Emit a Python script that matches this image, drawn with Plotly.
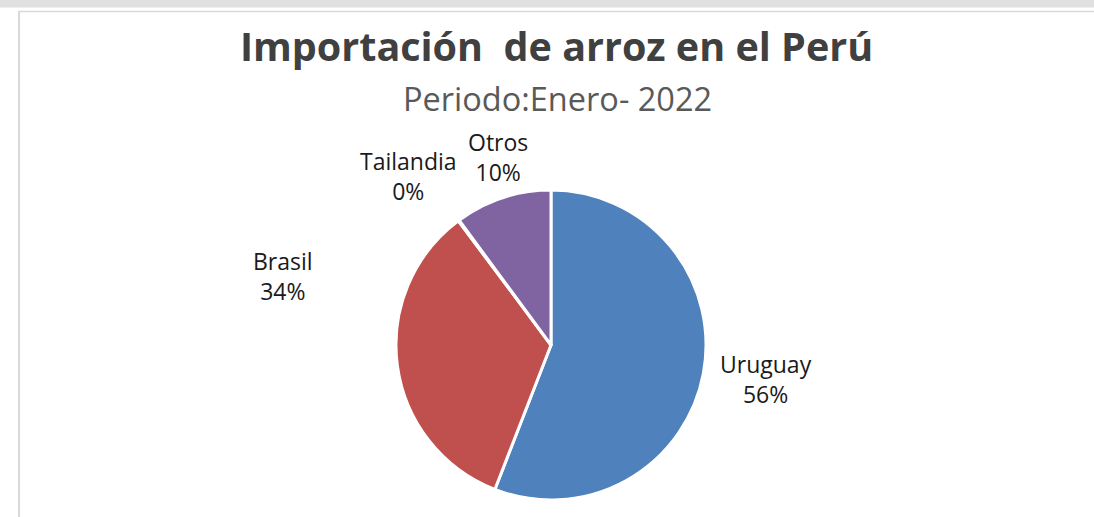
import plotly.graph_objects as go

# Data
countries = ["Uruguay", "Brasil", "Tailandia", "Otros"]
shares = [55.9, 33.9, 0.1, 10.1]
colors = ["#4F81BD", "#C0504D", "#9BBB59", "#8064A2"]

title_text = "Importación\u00a0\u00a0de arroz en el Perú"
subtitle_text = "Periodo:Enero- 2022"

W, H = 1094, 517

# label centres in pixels (layout)
label_pos = {
    "Uruguay": (766, 379),
    "Brasil": (283, 276),
    "Tailandia": (408, 176),
    "Otros": (498, 157),
}

cx, cy, r = 551, 345, 155

fig = go.Figure(
    go.Pie(
        labels=countries,
        values=shares,
        sort=False,
        direction="clockwise",
        rotation=0,
        marker=dict(colors=colors, line=dict(color="white", width=3)),
        textinfo="none",
        hoverinfo="label+percent",
        showlegend=False,
        domain=dict(
            x=[(cx - r) / W, (cx + r) / W],
            y=[(H - cy - r) / H, (H - cy + r) / H],
        ),
    )
)

total = sum(shares)
annotations = []
for name, v in zip(countries, shares):
    px, py = label_pos[name]
    annotations.append(
        dict(
            x=px / W, y=1 - py / H, xref="paper", yref="paper",
            text=f"{name}<br>{round(v / total * 100)}%",
            showarrow=False, xanchor="center", yanchor="middle",
            align="center",
            font=dict(family="Open Sans", size=23, color="#1a1a1a"),
        )
    )

annotations.append(dict(
    x=556 / W, y=1 - 46 / H, xref="paper", yref="paper",
    text=f"<b>{title_text}</b>", showarrow=False,
    xanchor="center", yanchor="middle",
    font=dict(family="Open Sans", size=39.5, color="#404040"),
))
annotations.append(dict(
    x=557 / W, y=1 - 99 / H, xref="paper", yref="paper",
    text=subtitle_text, showarrow=False,
    xanchor="center", yanchor="middle",
    font=dict(family="Open Sans", size=32.5, color="#595959"),
))

shapes = [
    # top gray band
    dict(type="rect", xref="paper", yref="paper", x0=0, x1=1,
         y0=1 - 7.5 / H, y1=1, fillcolor="#e0e0e0", line=dict(width=0), layer="below"),
    # chart border top
    dict(type="line", xref="paper", yref="paper", x0=18 / W, x1=1,
         y0=1 - 11.5 / H, y1=1 - 11.5 / H, line=dict(color="#d9d9d9", width=1.5)),
    # chart border left
    dict(type="line", xref="paper", yref="paper", x0=19 / W, x1=19 / W,
         y0=0, y1=1 - 11.5 / H, line=dict(color="#d9d9d9", width=2)),
]

fig.update_layout(
    width=W, height=H,
    margin=dict(l=0, r=0, t=0, b=0),
    paper_bgcolor="white",
    plot_bgcolor="white",
    annotations=annotations,
    shapes=shapes,
)

fig.write_html("out.html", config={"displayModeBar": False},
               post_script="document.body.style.margin='0';")
